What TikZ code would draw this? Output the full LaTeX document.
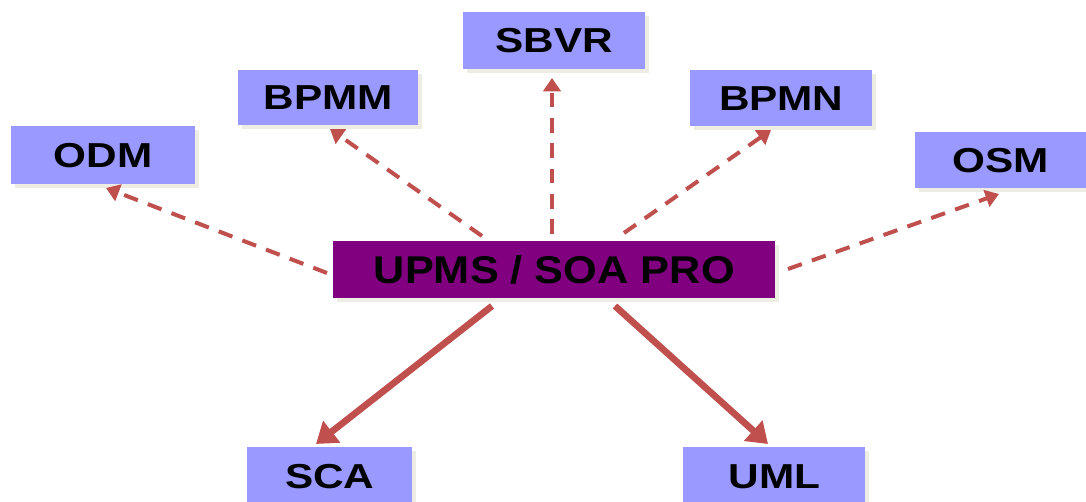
\documentclass[tikz,border=0pt]{standalone}
\usepackage{fontspec}
\setmainfont{Liberation Sans}
\newfontfamily\widefont[FakeStretch=1.22]{Liberation Sans}
\newfontfamily\widerfont[FakeStretch=1.12]{Liberation Sans}
\usetikzlibrary{arrows.meta}
\definecolor{boxblue}{HTML}{9999FF}
\definecolor{boxpurple}{HTML}{800080}
\definecolor{arrowred}{HTML}{C0504D}
\definecolor{shadowc}{HTML}{EDEDE3}
\tikzset{
  dasharrow/.style={draw=arrowred, line width=3pt, dash pattern=on 11pt off 8pt,
    -{Triangle[width=13pt,length=10pt]}},
  solidarrow/.style={draw=arrowred, line width=5pt,
    -{Triangle[width=20pt,length=15pt]}},
}
\newcommand{\mybox}[7]{%
  % name, x1, y1, x2, y2, fill, text
  \fill[shadowc] (#2+4,#3+4) rectangle (#4+4,#5+4);
  \node[fill=#6, inner sep=0pt, minimum width=(#4-#2)*0.75pt, minimum height=(#5-#3)*0.75pt,
        font=\widefont\bfseries\fontsize{26}{30}\selectfont, anchor=north west] (#1) at (#2,#3) {#7};
}
\begin{document}
\begin{tikzpicture}[x=0.75pt,y=-0.75pt]
\useasboundingbox (0,0) rectangle (1086,502);
\mybox{odm}{11}{126}{195}{184}{boxblue}{ODM}
\mybox{bpmm}{238}{70}{418}{125}{boxblue}{BPMM}
\mybox{sbvr}{463}{12}{645}{69}{boxblue}{SBVR}
\mybox{bpmn}{690}{70}{872}{126}{boxblue}{BPMN}
\mybox{osm}{915}{132}{1086}{188}{boxblue}{OSM}
\mybox{sca}{247}{447}{412}{506}{boxblue}{SCA}
\mybox{uml}{683}{447}{865}{506}{boxblue}{UML}
\fill[shadowc] (337,245) rectangle (779,302);
\node[fill=boxpurple, inner sep=0pt, minimum width=442*0.75pt, minimum height=57*0.75pt,
      font=\widerfont\bfseries\fontsize{29}{34}\selectfont, anchor=north west] (upms) at (333,241) {UPMS / SOA PRO};
% connector end points
\coordinate (s1) at (327,273); \coordinate (e1) at (106,188);
\coordinate (s2) at (482,236); \coordinate (e2) at (330,129);
\coordinate (s3) at (552,234); \coordinate (e3) at (552,78);
\coordinate (s4) at (624,233); \coordinate (e4) at (771,130);
\coordinate (s5) at (788,269); \coordinate (e5) at (999,194);
\coordinate (s6) at (492,306); \coordinate (e6) at (316,444);
\coordinate (s7) at (615,306); \coordinate (e7) at (768,444);
\draw[dasharrow] (s1) -- (e1);
\draw[dasharrow] (s2) -- (e2);
\draw[dasharrow] (s3) -- (e3);
\draw[dasharrow] (s4) -- (e4);
\draw[dasharrow] (s5) -- (e5);
\draw[solidarrow] (s6) -- (e6);
\draw[solidarrow] (s7) -- (e7);
\end{tikzpicture}
\end{document}
